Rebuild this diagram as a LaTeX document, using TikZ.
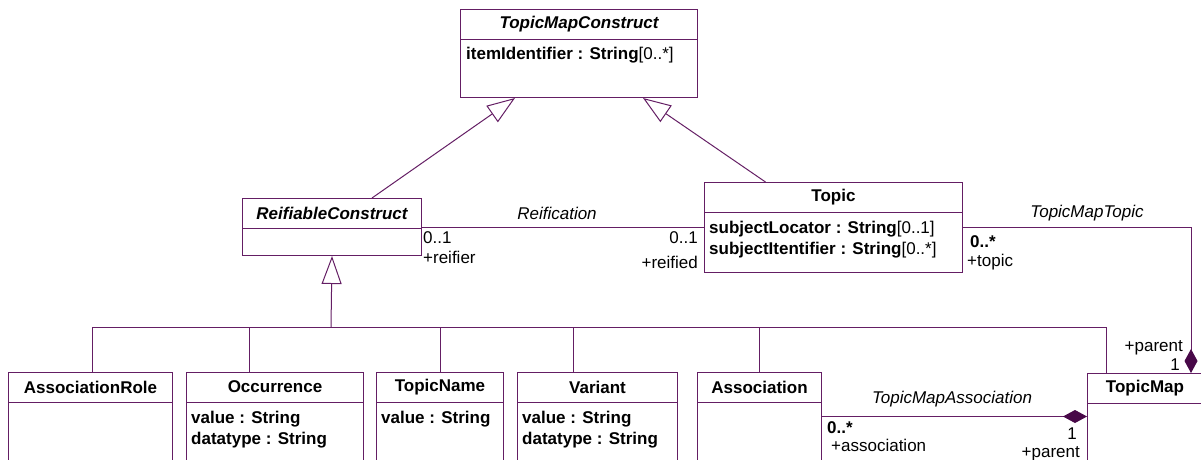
\documentclass[tikz,border=0pt]{standalone}
\usepackage{fontspec}
\setmainfont{Liberation Sans}
\usetikzlibrary{positioning,calc,arrows.meta}
\definecolor{umlpurple}{RGB}{100,30,100}
\definecolor{umldark}{RGB}{72,8,72}
\newcommand{\umlfont}{\fontsize{17}{21}\selectfont}
\tikzset{
  umlline/.style={draw=umlpurple, line width=1pt},
  classbox/.style={umlline, rectangle, inner sep=0pt, anchor=north west},
  classname/.style={font=\umlfont\bfseries, inner sep=0pt},
  attrs/.style={font=\umlfont\bfseries, align=left, anchor=north west, inner sep=0pt},
  lbl/.style={font=\umlfont, inner sep=0pt},
  assocname/.style={font=\umlfont\itshape, inner sep=0pt},
  gen/.style={umlline, -{Triangle[open, length=28pt, width=20pt]}},
  comp/.style={umlline, -{Diamond[length=24pt, width=13pt, fill=umldark, color=umldark]}},
}
\newcommand{\umlclass}[6]{%
  \node[classbox, minimum width=#4pt, minimum height=#5pt] (#1) at (#2,#3) {};
  \draw[umlline] ($(#1.north west)+(0,30)$) -- ($(#1.north east)+(0,30)$);
  \node[classname] (#1-name) at ($(#1.north)+(0,15)$) {#6};
}

\begin{document}
\begin{tikzpicture}[x=1pt, y=-1pt]
    \clip (0,0) rectangle (1201,459);
    \umlclass{tmc}{460}{9}{237}{88}{\itshape TopicMapConstruct}
    \node[attrs] (tmc-attr) at ($(tmc.north west)+(6,38)$) {itemIdentifier : String{\mdseries[0..*]}};
    \umlclass{rc}{242}{198}{179}{57}{\itshape ReifiableConstruct}
    \umlclass{topic}{704}{182}{258}{90}{Topic}
    \node[attrs] (topic-attr) at ($(topic.north west)+(5,39)$)
      {subjectLocator : String{\mdseries[0..1]}\\subjectItentifier : String{\mdseries[0..*]}};
    \umlclass{ar}{8}{372}{164}{88}{AssociationRole}
    \umlclass{occ}{186}{372}{177}{88}{Occurrence}
    \node[attrs] (occ-attr) at ($(occ.north west)+(5,39)$) {value : String\\datatype : String};
    \umlclass{tn}{376}{372}{127}{88}{TopicName}
    \node[attrs] (tn-attr) at ($(tn.north west)+(5,39)$) {value : String};
    \umlclass{var}{517}{372}{160}{88}{Variant}
    \node[attrs] (var-attr) at ($(var.north west)+(5,39)$) {value : String\\datatype : String};
    \umlclass{assoc}{697}{372}{124}{88}{Association}
    \umlclass{tm}{1087}{373}{115}{88}{TopicMap}

    \draw[gen] ([xshift=40pt]rc.north) -- ([xshift=-64pt]tmc.south);
    \draw[gen] ([xshift=-68pt]topic.north) -- ([xshift=64pt]tmc.south);

    \coordinate (bus) at (331,327);
    \coordinate (tmtop) at ([xshift=-39pt]tm.north);
    \coordinate (tmright) at ([xshift=46pt]tm.north);
    \draw[gen] (bus) -- (rc.south);
    \draw[umlline] ([xshift=2pt]ar.north) |- (bus) -| (tmtop);
    \draw[umlline] ([xshift=-26pt]occ.north) |- (bus);
    \draw[umlline] (tn.north) |- (bus);
    \draw[umlline] ([xshift=-24pt]var.north) |- (bus);
    \draw[umlline] (assoc.north) |- (bus);

    \draw[umlline] (rc.east) -- (rc.east -| topic.west);
    \node[assocname] (reif) at (557,213) {Reification};
    \node[lbl, anchor=west] (reifier-m) at (423,238) {0..1};
    \node[lbl, anchor=west] (reifier) at (423,257) {+reifier};
    \node[lbl, anchor=east] (reified-m) at (698,238) {0..1};
    \node[lbl, anchor=east] (reified) at (698,262) {+reified};

    \draw[comp] (topic.east) -| (tmright);
    \node[assocname] (tmt) at (1087,213) {TopicMapTopic};
    \node[lbl, anchor=west, font=\umlfont\bfseries] (topic-m) at (970,242) {0..*};
    \node[lbl, anchor=west] (topic-r) at (967,262) {+topic};
    \node[lbl, anchor=east] (parent1) at (1183,348) {+parent};
    \node[lbl, anchor=east] (parent1-m) at (1180,365) {1};

    \draw[comp] (assoc.east) -- (assoc.east -| tm.west);
    \node[assocname] (tma) at (952,399) {TopicMapAssociation};
    \node[lbl, anchor=west, font=\umlfont\bfseries] (assoc-m) at (827,428) {0..*};
    \node[lbl, anchor=west] (assoc-r) at (831,445) {+association};
    \node[lbl, anchor=east] (parent2-m) at (1077,434) {1};
    \node[lbl, anchor=east] (parent2) at (1080,454) {+parent};
\end{tikzpicture}
\end{document}
